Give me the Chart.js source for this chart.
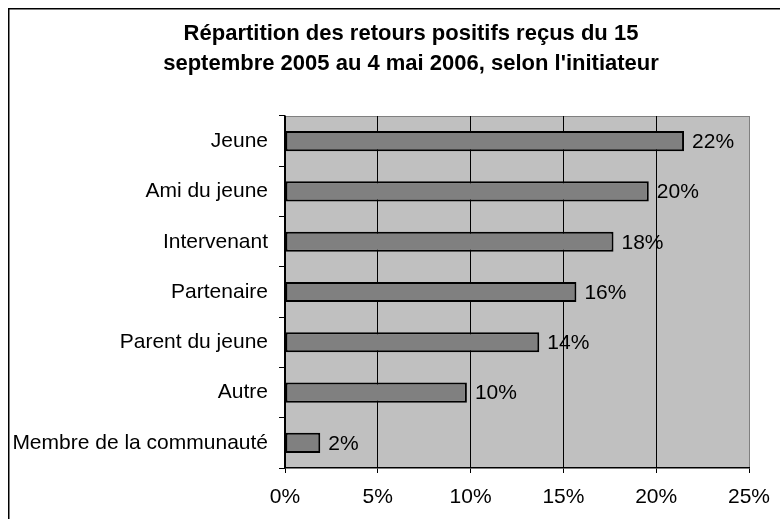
<!DOCTYPE html>
<html>
<head>
<meta charset="utf-8">
<script src="https://cdn.jsdelivr.net/npm/chart.js@4/dist/chart.umd.min.js"></script>
<style>
  body { margin: 0; background: #fff; }
</style>
</head>
<body>
<canvas id="myChart" width="780" height="519"></canvas>
<script>
// data
const categories = ['Jeune', 'Ami du jeune', 'Intervenant', 'Partenaire', 'Parent du jeune', 'Autre', 'Membre de la communauté'];
const shares = [21.5, 19.6, 17.7, 15.7, 13.7, 9.8, 1.9];
const titleLines = ['Répartition des retours positifs reçus du 15', 'septembre 2005 au 4 mai 2006, selon l\'initiateur'];

const FONT = '"Liberation Sans", Arial, sans-serif';

// grey plot background, frame and title
const decor = {
    id: 'decor',
    beforeDraw(chart) {
        const c = chart.ctx;
        const a = chart.chartArea;
        c.save();
        c.fillStyle = '#C0C0C0';
        c.fillRect(a.left, a.top, a.right - a.left, a.bottom - a.top);
        c.strokeStyle = '#808080';
        c.lineWidth = 1;
        c.beginPath();
        c.moveTo(a.left, a.top + 0.5);
        c.lineTo(a.right, a.top + 0.5);
        c.stroke();
        // outer frame (only left / top visible)
        c.strokeStyle = '#000';
        c.lineWidth = 1.5;
        c.beginPath();
        c.moveTo(8.75, chart.height);
        c.lineTo(8.75, 8.75);
        c.lineTo(chart.width, 8.75);
        c.stroke();
        // title
        c.fillStyle = '#000';
        c.font = 'bold 22px ' + FONT;
        c.textAlign = 'center';
        c.textBaseline = 'alphabetic';
        c.fillText(titleLines[0], 411, 40);
        c.fillText(titleLines[1], 411, 69.5);
        c.restore();
    },
    afterDatasetsDraw(chart) {
        const c = chart.ctx;
        const meta = chart.getDatasetMeta(0);
        c.save();
        c.fillStyle = '#000';
        c.font = '21px ' + FONT;
        c.textAlign = 'left';
        c.textBaseline = 'middle';
        meta.data.forEach((bar, i) => {
            c.fillText(Math.round(shares[i]) + '%', bar.x + 8, bar.y + 1);
        });
        c.restore();
    }
};

const ch = document.getElementById('myChart').getContext('2d');

const config = {
    type: 'bar',
    data: {
        labels: categories,
        datasets: [{
            data: shares,
            backgroundColor: '#808080',
            borderColor: '#000',
            borderWidth: 2,
            borderSkipped: false,
            barPercentage: 0.4,
            categoryPercentage: 1
        }]
    },
    options: {
        indexAxis: 'y',
        responsive: false,
        animation: false,
        layout: { padding: { top: 116, right: 31, left: 0, bottom: 0 } },
        plugins: {
            legend: { display: false },
            tooltip: { enabled: false },
            title: { display: false }
        },
        scales: {
            x: {
                min: 0,
                max: 25,
                afterFit(scale) {
                    scale.height = 51;
                    scale.paddingLeft = 0;
                    scale.paddingRight = 0;
                },
                ticks: {
                    stepSize: 5,
                    color: '#000',
                    padding: 12,
                    font: { family: FONT, size: 21 },
                    callback: v => v + '%'
                },
                grid: {
                    color: ctx => ctx.index === 5 ? '#808080' : '#000',
                    tickColor: '#000',
                    tickLength: 5,
                    lineWidth: 1
                },
                border: { color: '#000', width: 1.5 }
            },
            y: {
                afterFit(scale) { scale.width = 285; },
                ticks: {
                    color: '#000',
                    padding: 11,
                    font: { family: FONT, size: 21 }
                },
                grid: {
                    drawOnChartArea: false,
                    tickLength: 6,
                    color: '#000'
                },
                border: { color: '#000', width: 1.5 }
            }
        }
    },
    plugins: [decor]
};

const myChart = new Chart(ch, config);
</script>
</body>
</html>
